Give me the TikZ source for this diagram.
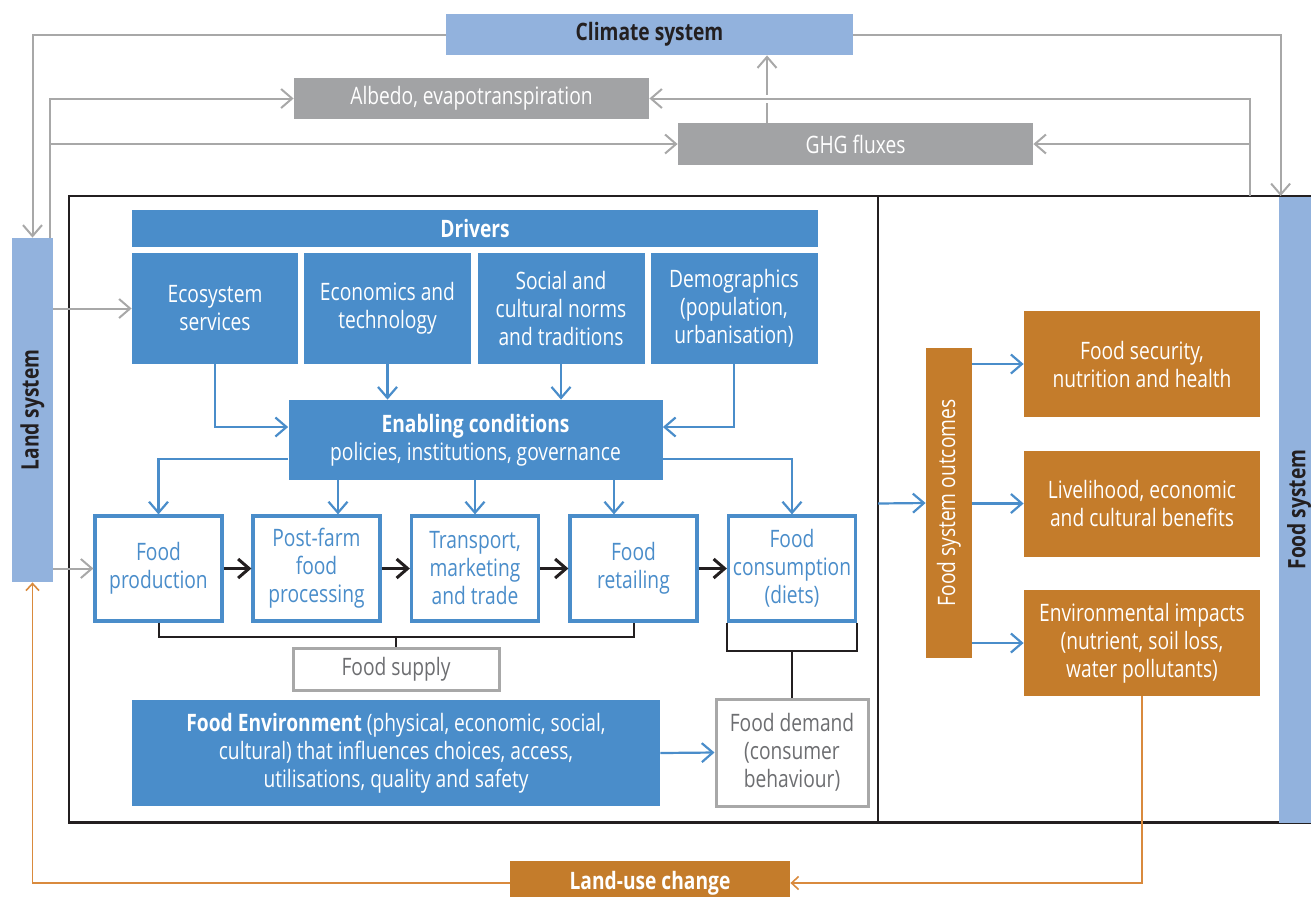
\documentclass[tikz,border=0pt]{standalone}
\usepackage{fontspec}
\setmainfont[FakeStretch=0.8]{Open Sans}
\usetikzlibrary{arrows.meta}
\newcommand*{\pxl}{0.5pt}
\newcommand*{\fsz}{\fontsize{12}{14}\selectfont}
\definecolor{drvblue}{HTML}{4A8DCA}
\definecolor{sysblue}{HTML}{92B2DD}
\definecolor{boxgray}{HTML}{A2A3A5}
\definecolor{linegray}{HTML}{A8A8A8}
\definecolor{txtdark}{HTML}{231F20}
\definecolor{txtgray}{HTML}{6D6E71}
\definecolor{outorange}{HTML}{C47C2B}
\definecolor{lineorange}{HTML}{D98A3D}

\begin{document}
\begin{tikzpicture}[x=\pxl, y=-\pxl, font=\fsz,
    box/.style 2 args={inner sep=0pt, minimum width=#1*\pxl, minimum height=#2*\pxl, align=center},
    drv/.style={fill=drvblue, text=white},
    sys/.style={fill=sysblue, text=txtdark, font=\fsz\bfseries},
    gbox/.style={fill=boxgray, text=white},
    proc/.style={draw=drvblue, line width=1.6pt, fill=white, text=drvblue},
    wbox/.style={draw=linegray, line width=1.5pt, fill=white, text=txtgray},
    obox/.style={fill=outorange, text=white},
    gline/.style={draw=linegray, line width=1pt},
    bline/.style={draw=drvblue, line width=1.1pt},
    kline/.style={draw=txtdark, line width=1pt},
    oline/.style={draw=lineorange, line width=0.8pt},
    barb/.style={-{Straight Barb[length=5.5pt, width=9.5pt]}},
    sbarb/.style={-{Straight Barb[length=3.5pt, width=6.5pt]}}]
    \useasboundingbox (0,0) rectangle (1311,896);
    % frame of the food system
    \draw[kline, line width=1.2pt] (69,196) rectangle (1330,822.5);
    \draw[kline, line width=1.2pt] (878,196) -- (878,822.5);
    \coordinate (dv) at (878,503.5);
    \coordinate (fr) at (1249.5,196);

    \node[sys, box={407}{41}] (climate) at (649.5,34.5) {Climate system};
    \node[gbox, box={355}{41}] (albedo) at (471.5,98.5) {Albedo, evapotranspiration};
    \node[gbox, box={355}{42}] (ghg) at (855.5,144) {GHG fluxes};
    \node[sys, box={41}{344}] (landsys) at (32.5,410) {\rotatebox{90}{Land system}};
    \node[sys, box={40}{626}] (foodsys) at (1299,509.5) {\rotatebox{90}{Food system}};

    \node[drv, box={686}{37}, font=\fsz\bfseries] (drivers) at (475,228) {Drivers};
    \node[drv, box={166}{111}] (eco) at (215,308.5) {Ecosystem\\services};
    \node[drv, box={167}{111}] (econ) at (387.5,308.5) {Economics and\\technology};
    \node[drv, box={167}{111}] (social) at (561,308.5) {Social and\\cultural norms\\and traditions};
    \node[drv, box={167}{111}] (demo) at (734,308.5) {Demographics\\(population,\\urbanisation)};
    \node[drv, box={374}{80}] (enab) at (475.5,440) {\textbf{Enabling conditions}\\policies, institutions, governance};

    \node[proc, box={127}{105}] (prod) at (158.5,568.5) {Food\\production};
    \node[proc, box={127}{105}] (post) at (316.5,568.5) {Post-farm\\food\\processing};
    \node[proc, box={127}{105}] (trans) at (475,568.5) {Transport,\\marketing\\and trade};
    \node[proc, box={127}{105}] (ret) at (633.5,568.5) {Food\\retailing};
    \node[proc, box={127}{105}] (cons) at (792,568.5) {Food\\consumption\\(diets)};

    \node[wbox, box={206}{42}] (supply) at (396,669) {Food supply};
    \node[drv, box={528}{106}] (env) at (396,753) {\textbf{Food Environment} (physical, economic, social,\\cultural) that influences choices, access,\\utilisations, quality and safety};
    \node[wbox, box={152}{107}] (demand) at (792,752.5) {Food demand\\(consumer\\behaviour)};

    \node[obox, box={46}{310}] (outc) at (949,503) {\rotatebox{90}{Food system outcomes}};
    \node[obox, box={236}{106}] (secur) at (1142,364) {Food security,\\nutrition and health};
    \node[obox, box={236}{106}] (liveli) at (1142,503.5) {Livelihood, economic\\and cultural benefits};
    \node[obox, box={236}{106}] (impact) at (1142,643) {Environmental impacts\\(nutrient, soil loss,\\water pollutants)};
    \node[obox, box={280}{44}, font=\fsz\bfseries] (luc) at (650,883) {Land-use change};

    % climate feedbacks
    \draw[gline, barb] (climate.west) -| (landsys.north);
    \draw[gline, barb] (climate.east) -| ([xshift=2*\pxl]foodsys.north west);
    \coordinate (lu) at ([xshift=-3*\pxl]landsys.north east);
    \draw[gline, barb] (lu) |- (albedo.west);
    \draw[gline, barb] (lu |- ghg.west) -- (ghg.west);
    \draw[gline, barb] (fr) |- (albedo.east);
    \draw[gline, barb] (fr |- ghg.east) -- (ghg.east);
    \coordinate (gx) at ([xshift=-88.5*\pxl]ghg.north);
    \coordinate (gc) at (gx |- albedo.east);
    \draw[gline] (gx) -- ([yshift=-2pt]gc);
    \draw[gline, barb] ([yshift=2pt]gc) -- (gx |- climate.south);
    \draw[gline, barb] (landsys.east |- eco.west) -- (eco.west);
    \draw[gline, barb] (landsys.east |- prod.west) -- (prod.west);

    % drivers and enabling conditions
    \draw[bline, barb] (eco.south) |- ([yshift=13*\pxl]enab.west);
    \draw[bline, barb] (econ.south) -- (econ.south |- enab.north);
    \draw[bline, barb] (social.south) -- (social.south |- enab.north);
    \draw[bline, barb] (demo.south) |- ([yshift=13*\pxl]enab.east);
    \draw[bline, barb] ([yshift=-19*\pxl]enab.west) -| (prod.north);
    \coordinate (e2) at ([xshift=-137.5*\pxl]enab.south);
    \draw[bline, barb] (e2) -- (e2 |- post.north);
    \draw[bline, barb] (enab.south -| trans.north) -- (trans.north);
    \coordinate (e4) at ([xshift=138.5*\pxl]enab.south);
    \draw[bline, barb] (e4) -- (e4 |- ret.north);
    \draw[bline, barb] ([yshift=-19*\pxl]enab.east) -| (cons.north);

    \foreach \a/\b in {prod/post, post/trans, trans/ret, ret/cons}
        \draw[kline, line width=1.5pt, barb] (\a) -- (\b);

    % supply and demand
    \coordinate (sb) at (396,636.5);
    \draw[kline] (prod.south) |- (sb) -| (ret.south);
    \draw[kline] (sb) -- (supply.north);
    \coordinate (db) at (792,651);
    \draw[kline] (cons.south west) |- (db) -| (cons.south east);
    \draw[kline] (db) -- (demand.north);
    \draw[bline, barb] (env.east) -- (demand.west);

    % outcomes
    \draw[bline, barb] (dv) -- (outc.west);
    \foreach \o in {secur, liveli, impact}
        \draw[bline, barb] (outc.east |- \o.west) -- (\o.west);
    \draw[oline, sbarb] (impact.south) |- (luc.east);
    \draw[oline, sbarb] (luc.west) -| (landsys.south);
\end{tikzpicture}
\end{document}
